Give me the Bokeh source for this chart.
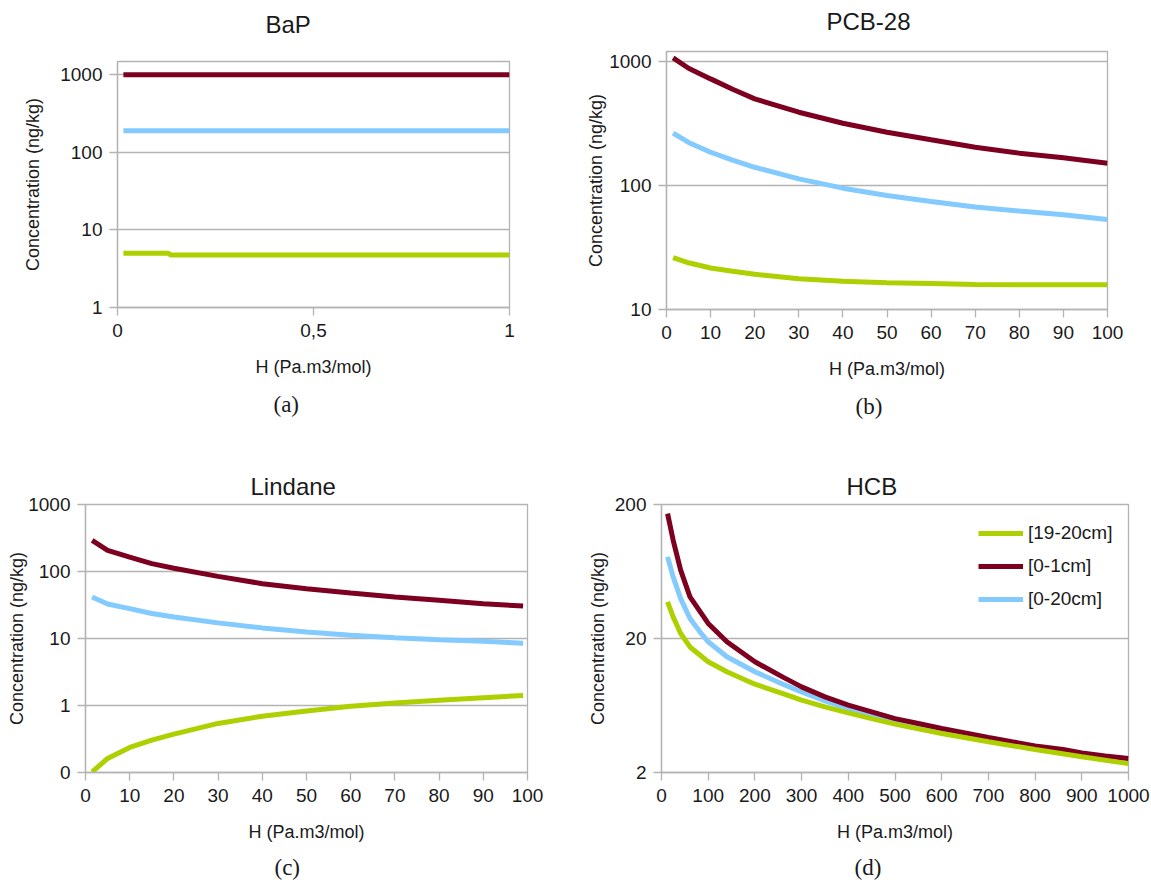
from bokeh.plotting import figure
from bokeh.layouts import column, row
from bokeh.models import Range1d, FixedTicker, Title, Legend, LegendItem
from bokeh.embed import file_html
from bokeh.resources import INLINE

GREEN = "#aecf00"
RED = "#7e0021"
BLUE = "#83caff"
GRID = "#b3b3b3"
TEXT = "#1a1a1a"

# ---------------- data ----------------
# (a) BaP
bap_h = [0.015, 1.0]
bap_red = [1000, 1000]
bap_blue = [190, 190]
bap_green_h = [0.015, 0.13, 0.135, 1.0]
bap_green = [5.0, 5.0, 4.75, 4.75]

# (b) PCB-28
pcb_h = [1.5, 5, 10, 15, 20, 30, 40, 50, 60, 70, 80, 90, 100]
pcb_red = [1065, 880, 722, 595, 498, 389, 317, 268, 233, 203, 182, 167, 151]
pcb_blue = [264, 222, 185, 160, 140, 113, 95, 83, 74.3, 66.9, 62.1, 58.1, 53.2]
pcb_green = [26.2, 23.8, 21.6, 20.3, 19.2, 17.7, 16.9, 16.4, 16.2, 15.9, 15.8, 15.8, 15.8]

# (c) Lindane
lin_h = [1.5, 5, 10, 15, 20, 30, 40, 50, 60, 70, 80, 90, 99]
lin_red = [291, 207, 164, 131, 112, 84.5, 65.8, 55.4, 47.7, 41.6, 37.1, 33.1, 30.5]
lin_blue = [41.6, 32.8, 27.9, 23.6, 20.9, 17.1, 14.4, 12.5, 11.2, 10.3, 9.6, 9.1, 8.5]
lin_green = [0.102, 0.162, 0.237, 0.305, 0.373, 0.54, 0.693, 0.83, 0.977, 1.094, 1.2, 1.31, 1.41]

# (d) HCB
hcb_red_h = [13, 25, 41, 61, 100, 140, 200, 260, 300, 350, 400, 450, 500, 550, 600,
             650, 700, 750, 800, 860, 900, 950, 1000]
hcb_red = [171, 108, 64.7, 40.9, 25.9, 18.9, 13.4, 10.3, 8.71, 7.33, 6.36, 5.67, 5.05,
           4.64, 4.26, 3.95, 3.65, 3.39, 3.16, 2.97, 2.80, 2.66, 2.54]
hcb_blue_h = [13, 25, 41, 61, 85, 100, 140, 200, 260, 300, 350, 400, 450, 500, 600,
              700, 800, 900, 1000]
hcb_blue = [81.3, 57.7, 39.7, 28.2, 21.8, 18.9, 14.6, 11.3, 9.12, 8.0, 6.85, 6.0, 5.45,
            4.91, 4.09, 3.48, 3.07, 2.69, 2.43]
hcb_green_h = [13, 25, 41, 61, 100, 140, 200, 260, 300, 350, 400, 450, 500, 600, 700,
               800, 900, 1000]
hcb_green = [37.5, 29.0, 21.8, 17.3, 13.4, 11.3, 9.12, 7.77, 6.93, 6.18, 5.57, 5.05,
             4.59, 3.91, 3.39, 2.97, 2.62, 2.33]

series_names = ["[19-20cm]", "[0-1cm]", "[0-20cm]"]
titles = ["BaP", "PCB-28", "Lindane", "HCB"]
captions = ["(a)", "(b)", "(c)", "(d)"]
x_label = "H (Pa.m3/mol)"
y_label = "Concentration (ng/kg)"

a_xticks = [0, 0.5, 1]
a_xlabels = ["0", "0,5", "1"]
a_yticks = [1, 10, 100, 1000]
a_ylabels = ["1", "10", "100", "1000"]
b_xticks = list(range(0, 101, 10))
b_yticks = [10, 100, 1000]
b_ylabels = ["10", "100", "1000"]
c_yticks = [0.1, 1, 10, 100, 1000]
c_ylabels = ["0", "1", "10", "100", "1000"]
d_xticks = list(range(0, 1001, 100))
d_yticks = [2, 20, 200]
d_ylabels = ["2", "20", "200"]

FONT = "Liberation Sans"
SERIF = "Liberation Serif"


def make_fig(w, h, xr, yr, bl, br, bt, bb):
    p = figure(width=w, height=h, x_range=Range1d(*xr), y_range=Range1d(*yr),
               y_axis_type="log", output_backend="svg", toolbar_location=None,
               min_border_left=bl, min_border_right=br, min_border_top=bt,
               min_border_bottom=bb)
    p.background_fill_color = "white"
    p.border_fill_color = "white"
    p.outline_line_color = GRID
    p.outline_line_width = 1.3
    p.xgrid.visible = False
    p.ygrid.grid_line_color = GRID
    p.ygrid.grid_line_width = 1.3
    for ax in (p.xaxis[0], p.yaxis[0]):
        ax.axis_line_color = GRID
        ax.axis_line_width = 1.3
        ax.major_tick_line_color = GRID
        ax.major_tick_line_width = 1.3
        ax.major_tick_out = 8
        ax.major_tick_in = 0
        ax.minor_tick_line_color = None
        ax.major_label_text_font = FONT
        ax.major_label_text_font_size = "19px"
        ax.major_label_text_color = TEXT
        ax.major_label_standoff = 7
        ax.axis_label_text_font = FONT
        ax.axis_label_text_font_size = "18px"
        ax.axis_label_text_font_style = "normal"
        ax.axis_label_text_color = TEXT
    p.xaxis.major_label_standoff = 8
    p.xaxis.axis_label = x_label
    p.yaxis.axis_label = y_label
    p.xaxis.axis_label_standoff = 17
    return p


def set_ticks(axis, ticks, labels):
    axis.ticker = FixedTicker(ticks=ticks, minor_ticks=[])
    axis.major_label_overrides = {t: l for t, l in zip(ticks, labels)}


def add_titles(p, title, t_off, t_stand, t_valign, gap, caption, c_off, c_stand):
    p.title = Title(text=title, align="left", offset=t_off, standoff=t_stand,
                    vertical_align=t_valign,
                    text_font=FONT, text_font_size="24px", text_font_style="normal",
                    text_color=TEXT)
    if gap > 0:
        # blank spacer between the frame and the title
        p.add_layout(Title(text=" ", standoff=gap, text_font_size="1px"), "above")
    p.add_layout(Title(text=caption, align="left", offset=c_off, standoff=c_stand,
                       text_font=SERIF, text_font_size="23px", text_font_style="normal",
                       text_color=TEXT), "below")


# (a)
pa = make_fig(583, 438, (0, 1), (1, 1480), 117, 74, 61, 131)
set_ticks(pa.xaxis[0], a_xticks, a_xlabels)
set_ticks(pa.yaxis[0], a_yticks, a_ylabels)
pa.yaxis.axis_label_standoff = 14
pa.line(bap_h, bap_blue, line_color=BLUE, line_width=5)
pa.line(bap_h, bap_red, line_color=RED, line_width=5)
pa.line(bap_green_h, bap_green, line_color=GREEN, line_width=5)
add_titles(pa, titles[0], 148, 0, "bottom", 21, captions[0], 156, 20)

# (b)
pb = make_fig(567, 438, (0, 100), (10, 1200), 82, 43, 51, 129)
set_ticks(pb.xaxis[0], b_xticks, [str(t) for t in b_xticks])
set_ticks(pb.yaxis[0], b_yticks, b_ylabels)
pb.yaxis.axis_label_standoff = 0
pb.line(pcb_h, pcb_blue, line_color=BLUE, line_width=5)
pb.line(pcb_h, pcb_red, line_color=RED, line_width=5)
pb.line(pcb_h, pcb_green, line_color=GREEN, line_width=5)
add_titles(pb, titles[1], 160, 0, "bottom", 14, captions[1], 189, 20)

# (c)
pc = make_fig(583, 451, (0, 100), (0.1, 1000), 85, 56, 66, 117)
set_ticks(pc.xaxis[0], b_xticks, [str(t) for t in b_xticks])
set_ticks(pc.yaxis[0], c_yticks, c_ylabels)
pc.yaxis.axis_label_standoff = -2
pc.line(lin_h, lin_blue, line_color=BLUE, line_width=5)
pc.line(lin_h, lin_red, line_color=RED, line_width=5)
pc.line(lin_h, lin_green, line_color=GREEN, line_width=5)
add_titles(pc, titles[2], 165, 6, "top", 0, captions[2], 189, 17)

# (d)
pd_ = make_fig(567, 451, (0, 1000), (2, 200), 78, 22, 66, 117)
set_ticks(pd_.xaxis[0], d_xticks, [str(t) for t in d_xticks])
set_ticks(pd_.yaxis[0], d_yticks, d_ylabels)
pd_.yaxis.axis_label_standoff = 4
rb = pd_.line(hcb_blue_h, hcb_blue, line_color=BLUE, line_width=5)
rr = pd_.line(hcb_red_h, hcb_red, line_color=RED, line_width=5)
rg = pd_.line(hcb_green_h, hcb_green, line_color=GREEN, line_width=5)
legend = Legend(items=[LegendItem(label=series_names[0], renderers=[rg]),
                       LegendItem(label=series_names[1], renderers=[rr]),
                       LegendItem(label=series_names[2], renderers=[rb])],
                location=(317, 162))
legend.border_line_color = None
legend.background_fill_alpha = 0
legend.padding = 0
legend.margin = 0
legend.spacing = 11
legend.glyph_width = 45
legend.glyph_height = 20
legend.label_height = 20
legend.label_standoff = 5
legend.label_text_font = FONT
legend.label_text_font_size = "19px"
legend.label_text_color = TEXT
pd_.add_layout(legend)
add_titles(pd_, titles[3], 185, 6, "top", 0, captions[3], 193, 17)

layout = column(row(column(pa), column(pb)), row(column(pc), column(pd_)))
open("out.html", "w").write(file_html(layout, INLINE))
